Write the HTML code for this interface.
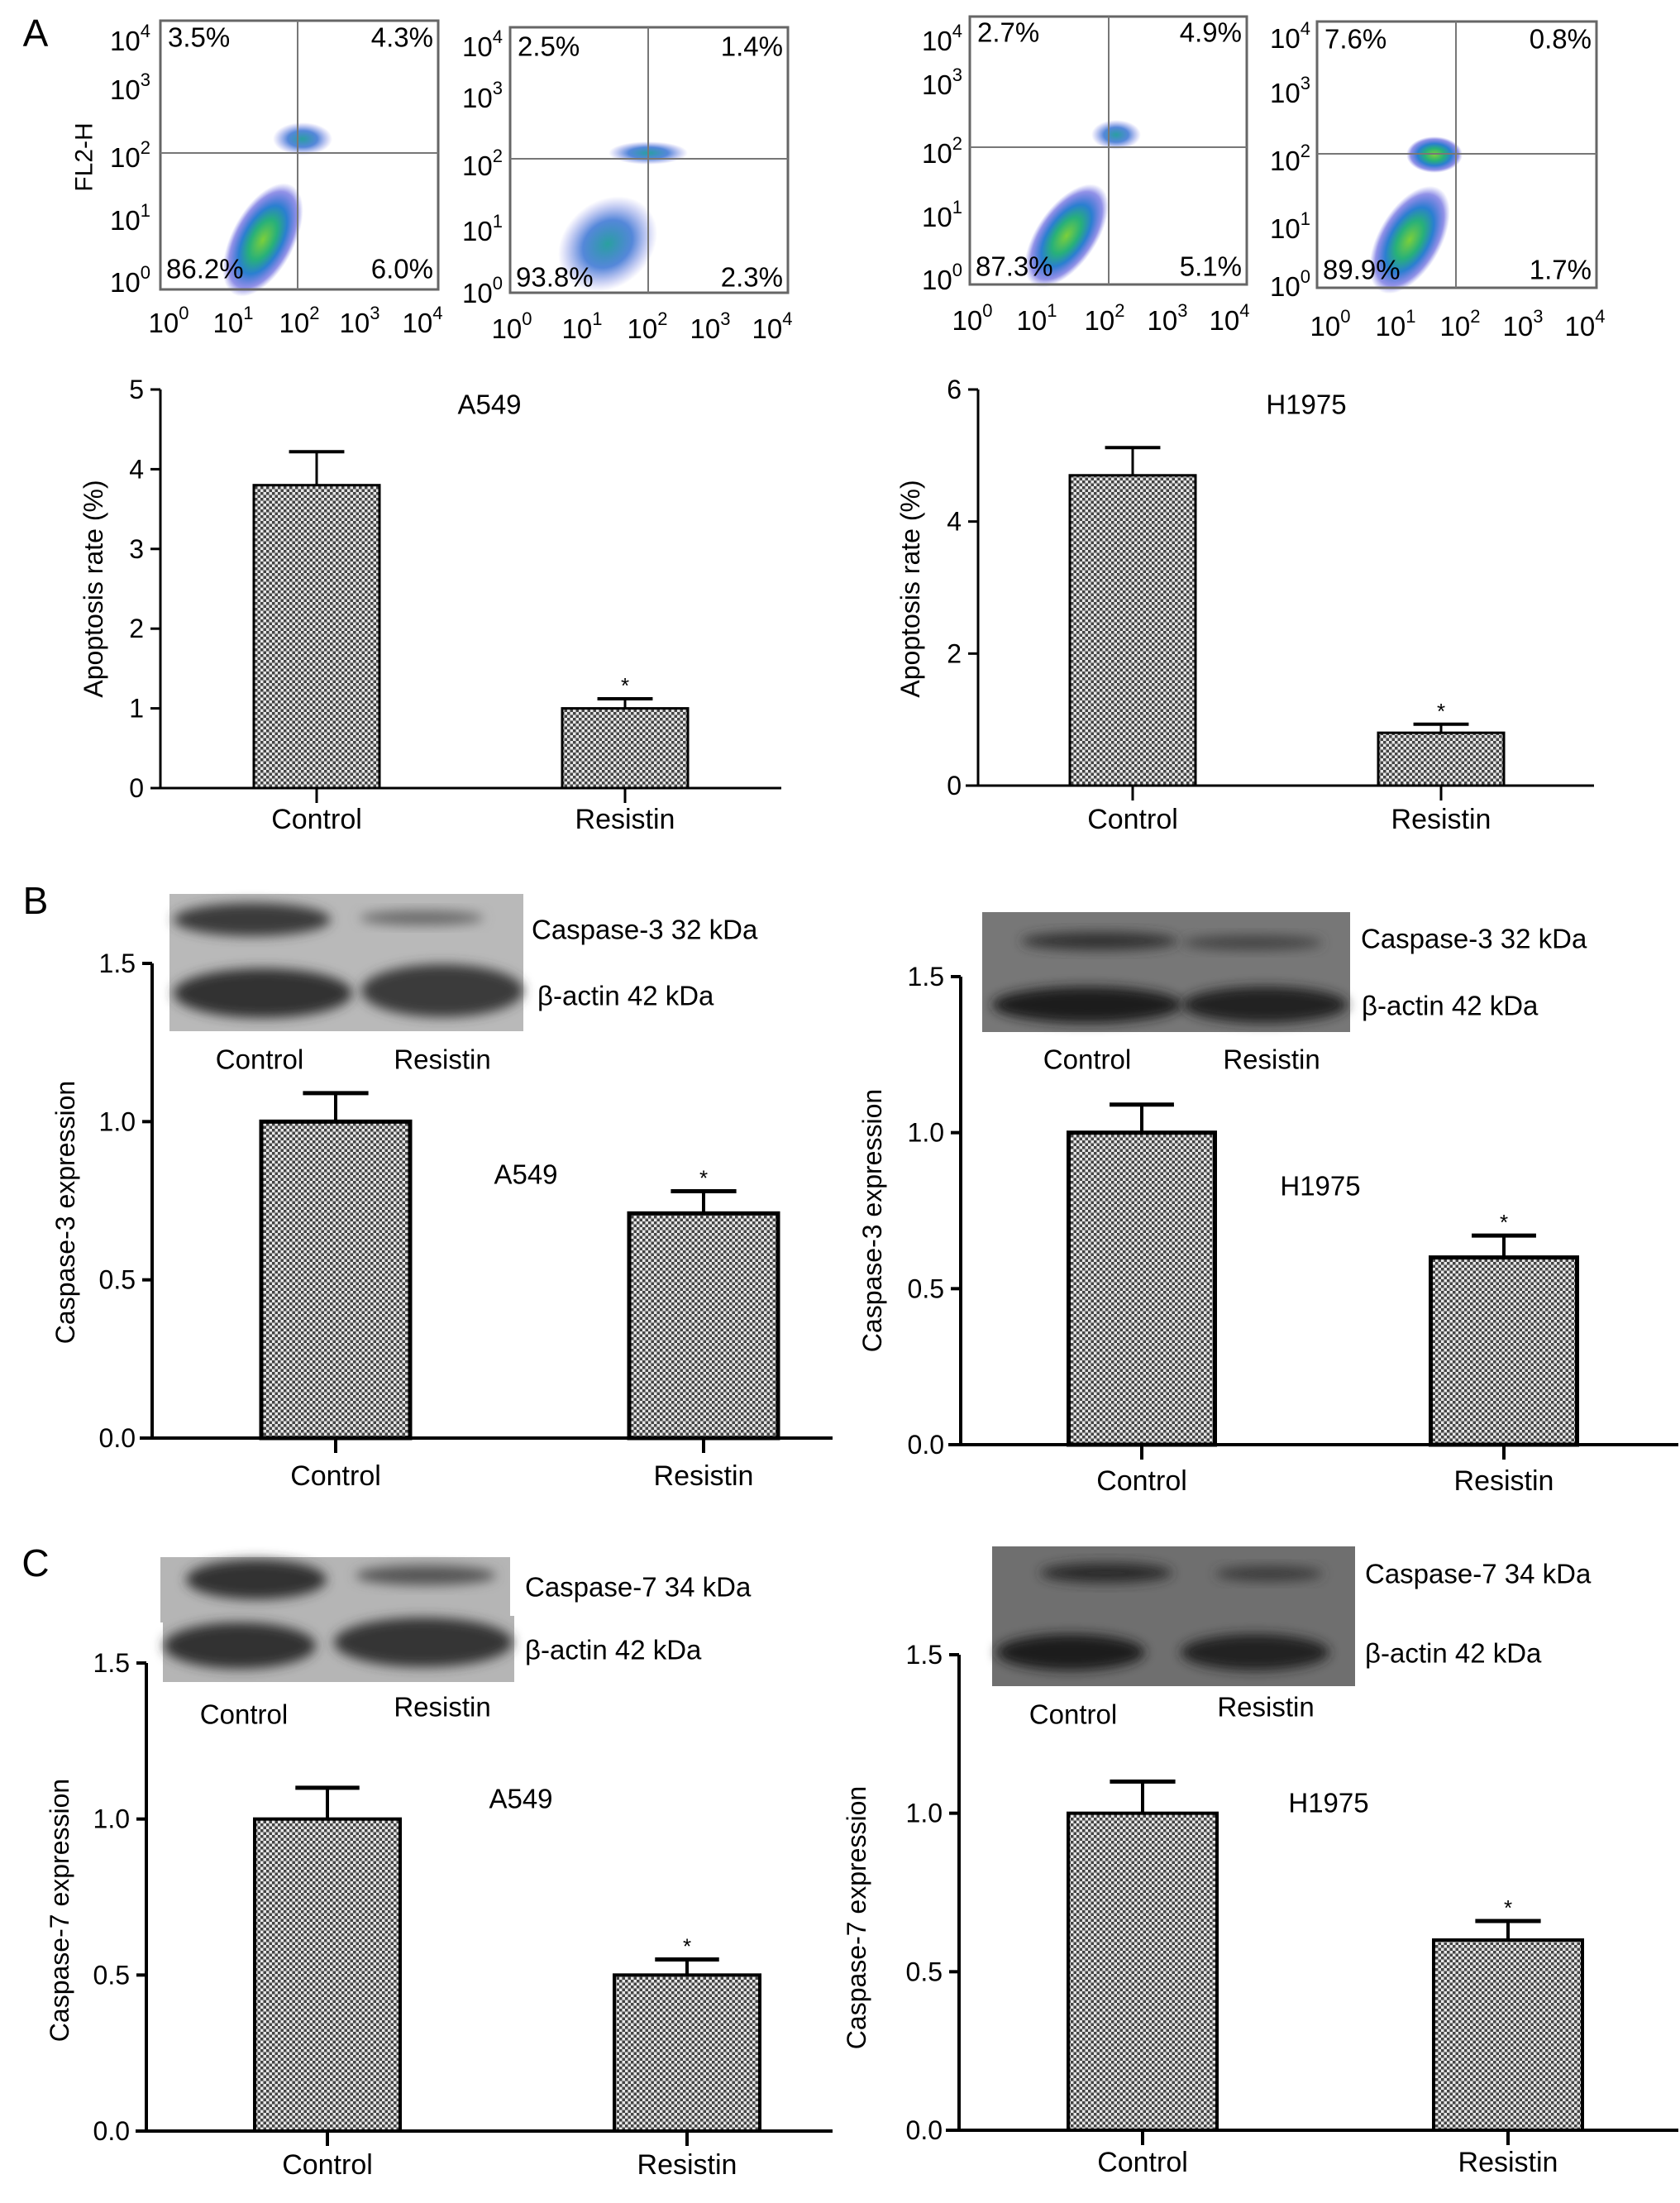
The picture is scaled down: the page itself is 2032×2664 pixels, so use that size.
<!DOCTYPE html>
<html><head><meta charset="utf-8"><style>
html,body{margin:0;padding:0;background:#fff;}
svg{display:block;font-family:"Liberation Sans",Arial,sans-serif;}
</style></head><body>
<svg id="fig" width="2032" height="2664" viewBox="0 0 2032 2664" xmlns="http://www.w3.org/2000/svg">
<defs>
<pattern id="chk" width="7" height="7" patternUnits="userSpaceOnUse">
<rect width="7" height="7" fill="#e6e6e6"/><rect width="3.5" height="3.5" fill="#444"/><rect x="3.5" y="3.5" width="3.5" height="3.5" fill="#444"/>
</pattern>
<radialGradient id="cloud" cx="50%" cy="50%" r="50%">
<stop offset="0" stop-color="#7ccf3a"/><stop offset="0.35" stop-color="#27b07a"/><stop offset="0.6" stop-color="#2a7fd0"/><stop offset="0.85" stop-color="#4a4ad8" stop-opacity="0.6"/><stop offset="1" stop-color="#6a6ae0" stop-opacity="0"/>
</radialGradient>
<radialGradient id="cloudb" cx="50%" cy="50%" r="50%">
<stop offset="0" stop-color="#2aa0a0"/><stop offset="0.5" stop-color="#2a6ad0" stop-opacity="0.8"/><stop offset="1" stop-color="#6a6ae0" stop-opacity="0"/>
</radialGradient>
<filter id="blur" x="-20%" y="-50%" width="140%" height="200%"><feGaussianBlur stdDeviation="7"/></filter>
</defs>
<g id="root"></g>
</svg>
<script>
// ---------- bar chart data ----------
const categories = ["Control", "Resistin"];
const apoA549 = [3.8, 1.0];
const apoA549Err = [0.42, 0.12];
const apoH1975 = [4.7, 0.8];
const apoH1975Err = [0.42, 0.13];
const casp3A549 = [1.0, 0.71];
const casp3A549Err = [0.09, 0.07];
const casp3H1975 = [1.0, 0.6];
const casp3H1975Err = [0.09, 0.07];
const casp7A549 = [1.0, 0.5];
const casp7A549Err = [0.10, 0.05];
const casp7H1975 = [1.0, 0.6];
const casp7H1975Err = [0.10, 0.06];
const ticksApoA549 = [0, 1, 2, 3, 4, 5];
const ticksApoH1975 = [0, 2, 4, 6];
const ticksCasp = [0, 0.5, 1.0, 1.5];
const sigMarks = ["", "*"];
// flow quadrant percentages [UL, UR, LL, LR]
const flowA549Ctrl = ["3.5%", "4.3%", "86.2%", "6.0%"];
const flowA549Res = ["2.5%", "1.4%", "93.8%", "2.3%"];
const flowH1975Ctrl = ["2.7%", "4.9%", "87.3%", "5.1%"];
const flowH1975Res = ["7.6%", "0.8%", "89.9%", "1.7%"];
const logExps = ["0", "1", "2", "3", "4"];

const NS = "http://www.w3.org/2000/svg";
const root = document.getElementById("root");
function mk(tag, attrs, parent, text) {
  const e = document.createElementNS(NS, tag);
  for (const k in attrs) e.setAttribute(k, attrs[k]);
  if (text !== undefined) e.textContent = text;
  (parent || root).appendChild(e);
  return e;
}

// panel letters
[["A", 43, 40], ["B", 43, 1089], ["C", 43, 1890]].forEach(([t, x, y]) => {
  const e = mk("text", {x: x, y: y, "font-size": 46, "text-anchor": "middle", "dominant-baseline": "central"}, root, t);
  
  
});

// ---------- flow plots ----------
function flow(name, L) {
  const g = mk("g", {});
  
  
  L.clouds.forEach(c => {
    const el = mk("ellipse", {cx: c[0], cy: c[1], rx: c[2], ry: c[3], fill: c[5] ? "url(#cloudb)" : "url(#cloud)", transform: "rotate(" + c[4] + " " + c[0] + " " + c[1] + ")"}, g);
    
    
  });
  mk("rect", {x: L.l, y: L.t, width: L.r - L.l, height: L.b - L.t, fill: "none", stroke: "#666", "stroke-width": 3}, g);
  mk("line", {x1: L.l, x2: L.r, y1: L.h, y2: L.h, stroke: "#777", "stroke-width": 2}, g);
  mk("line", {x1: L.v, x2: L.v, y1: L.t, y2: L.b, stroke: "#777", "stroke-width": 2}, g);
  logExps.forEach((ex, i) => {
    const t = mk("text", {x: L.yx, y: L.ys[i], "font-size": 33, "text-anchor": "end", "dominant-baseline": "central"}, g);
    
    
    mk("tspan", {}, t, "10");
    mk("tspan", {dy: -12, "font-size": 22}, t, logExps[logExps.length - 1 - i]);
    const u = mk("text", {x: L.xs[i] - 8, y: L.xy, "font-size": 33, "text-anchor": "middle", "dominant-baseline": "central"}, g);
    
    
    mk("tspan", {}, u, "10");
    mk("tspan", {dy: -12, "font-size": 22}, u, ex);
  });
  const p = L.pct;
  const q = [[L.l + 9, L.ty, "start", p[0]], [L.r - 6, L.ty, "end", p[1]], [L.l + 7, L.by, "start", p[2]], [L.r - 6, L.by, "end", p[3]]];
  q.forEach(a => {
    const t = mk("text", {x: a[0], y: a[1], "font-size": 33, "text-anchor": a[2], "dominant-baseline": "central"}, g, a[3]);
    
    
  });
}
flow("flow-a549-control", {l: 194, r: 530, t: 25, b: 350, h: 185, v: 360, yx: 182, ys: [49, 108, 190, 266, 341], xy: 390, xs: [212, 290, 370, 443, 519], ty: 45, by: 325, pct: flowA549Ctrl,
  clouds: [[318, 290, 75, 38, -62], [366, 168, 36, 20, 0, 1]]});
flow("flow-a549-resistin", {l: 617, r: 953, t: 33, b: 354, h: 192, v: 784, yx: 608, ys: [56, 118, 200, 279, 354], xy: 397, xs: [627, 712, 791, 867, 942], ty: 56, by: 335, pct: flowA549Res,
  clouds: [[735, 295, 65, 52, -40, 1], [784, 185, 48, 14, 0, 1]]});
flow("flow-h1975-control", {l: 1173, r: 1508, t: 20, b: 344, h: 178, v: 1341, yx: 1164, ys: [49, 102, 185, 262, 338], xy: 387, xs: [1184, 1262, 1344, 1420, 1495], ty: 39, by: 322, pct: flowH1975Ctrl,
  clouds: [[1290, 285, 72, 36, -55], [1350, 163, 30, 18, 0, 1]]});
flow("flow-h1975-resistin", {l: 1593, r: 1931, t: 26, b: 348, h: 186, v: 1761, yx: 1585, ys: [46, 112, 194, 276, 346], xy: 394, xs: [1617, 1696, 1774, 1850, 1925], ty: 47, by: 326, pct: flowH1975Res,
  clouds: [[1705, 290, 72, 38, -60], [1735, 187, 34, 22, 0]]});
{
  const t = mk("text", {x: 102, y: 190, "font-size": 30, "text-anchor": "middle", "dominant-baseline": "central", transform: "rotate(-90 102 190)"}, root, "FL2-H");
  
  
}

// ---------- western blots ----------
function blot(name, B) {
  const g = mk("g", {});
  
  
  B.rects.forEach(r => mk("rect", {x: r[0], y: r[1], width: r[2], height: r[3], fill: B.bg}, g));
  B.bands.forEach(b => {
    const e = mk("ellipse", {cx: b[0], cy: b[1], rx: b[2], ry: b[3], fill: b[4], filter: "url(#blur)"}, g);
    
    
  });
  B.texts.forEach(s => {
    const t = mk("text", {x: s[0], y: s[1], "font-size": s[3] || 33, "text-anchor": s[4] || "start", "dominant-baseline": "central"}, g, s[2]);
    
    
  });
}
blot("blot-caspase3-a549", {bg: "#b9b9b9", rects: [[205, 1081, 428, 166]],
  bands: [[305, 1112, 95, 20, "#3a3a3a"], [510, 1110, 75, 9, "#6a6a6a"], [318, 1201, 108, 30, "#333"], [535, 1198, 98, 32, "#3a3a3a"]],
  texts: [[643, 1124, "Caspase-3 32 kDa"], [650, 1204, "β-actin 42 kDa"], [314, 1281, "Control", 33, "middle"], [535, 1281, "Resistin", 33, "middle"]]});
blot("blot-caspase3-h1975", {bg: "#777", rects: [[1188, 1103, 445, 145]],
  bands: [[1330, 1138, 95, 11, "#333"], [1515, 1140, 85, 9, "#444"], [1315, 1215, 115, 22, "#1e1e1e"], [1530, 1215, 100, 22, "#222"]],
  texts: [[1646, 1135, "Caspase-3 32 kDa"], [1647, 1216, "β-actin 42 kDa"], [1315, 1281, "Control", 33, "middle"], [1538, 1281, "Resistin", 33, "middle"]]});
blot("blot-caspase7-a549", {bg: "#b5b5b5", rects: [[194, 1883, 423, 79], [197, 1954, 425, 80]],
  bands: [[310, 1910, 85, 24, "#333"], [515, 1905, 85, 12, "#555"], [290, 1990, 92, 28, "#333"], [512, 1986, 108, 30, "#353535"]],
  texts: [[635, 1919, "Caspase-7 34 kDa"], [635, 1995, "β-actin 42 kDa"], [295, 2073, "Control", 33, "middle"], [535, 2064, "Resistin", 33, "middle"]]});
blot("blot-caspase7-h1975", {bg: "#6f6f6f", rects: [[1200, 1870, 439, 169]],
  bands: [[1338, 1902, 80, 12, "#2a2a2a"], [1535, 1903, 65, 9, "#3a3a3a"], [1295, 1998, 90, 22, "#1a1a1a"], [1518, 1998, 90, 22, "#222"]],
  texts: [[1651, 1903, "Caspase-7 34 kDa"], [1651, 1999, "β-actin 42 kDa"], [1298, 2073, "Control", 33, "middle"], [1531, 2064, "Resistin", 33, "middle"]]});

// ---------- bar charts ----------
function barChart(name, C, vals, errs, ticks) {
  const g = mk("g", {});
  
  
  const ymax = ticks[ticks.length - 1];
  const yScale = v => C.y0 - (v / ymax) * (C.y0 - C.yTop);
  const xScale = i => C.cx[i];
  ticks.forEach(t => {
    const y = yScale(t);
    mk("line", {x1: C.ax - 12, x2: C.ax, y1: y, y2: y, stroke: "#000", "stroke-width": C.lw}, g);
    const tx = mk("text", {x: C.ax - 20, y: y, "font-size": 32, "text-anchor": "end", "dominant-baseline": "central"}, g, C.dec ? t.toFixed(1) : String(t));
    
    
  });
  vals.forEach((v, i) => {
    const x = xScale(i), yt = yScale(v), ye = yScale(v + errs[i]);
    mk("line", {x1: x, x2: x, y1: yt, y2: ye, stroke: "#000", "stroke-width": C.lw}, g);
    mk("line", {x1: x - C.w * 0.22, x2: x + C.w * 0.22, y1: ye, y2: ye, stroke: "#000", "stroke-width": C.lw + 1}, g);
    const r = mk("rect", {x: x - C.w / 2, y: yt, width: C.w, height: C.y0 - yt, fill: "url(#chk)", stroke: "#000", "stroke-width": C.bw}, g);
    
    
    if (sigMarks[i]) {
      const s = mk("text", {x: x, y: ye - 16, "font-size": 26, "text-anchor": "middle", "dominant-baseline": "central"}, g, sigMarks[i]);
      
      
    }
    mk("line", {x1: x, x2: x, y1: C.y0, y2: C.y0 + 18, stroke: "#000", "stroke-width": C.lw}, g);
    const lb = mk("text", {x: x, y: C.xly, "font-size": 34, "text-anchor": "middle", "dominant-baseline": "central"}, g, categories[i]);
    
    
  });
  mk("line", {x1: C.ax, x2: C.ax, y1: C.yTop, y2: C.y0, stroke: "#000", "stroke-width": C.lw}, g);
  mk("line", {x1: C.ax0, x2: C.xEnd, y1: C.y0, y2: C.y0, stroke: "#000", "stroke-width": C.lw}, g);
  const tt = mk("text", {x: C.tx, y: C.ty, "font-size": 33, "text-anchor": "middle", "dominant-baseline": "central"}, g, C.title);
  
  
  const yt = mk("text", {x: C.ytx, y: C.yty, "font-size": 32, "text-anchor": "middle", "dominant-baseline": "central", transform: "rotate(-90 " + C.ytx + " " + C.yty + ")"}, g, C.ytitle);
  
  
}
barChart("bar-chart-apoptosis-a549", {ax: 194, ax0: 184, y0: 953, yTop: 471, xEnd: 945, cx: [383, 756], w: 152, lw: 3, bw: 3, dec: false, xly: 991, title: "A549", tx: 592, ty: 489, ytitle: "Apoptosis rate (%)", ytx: 113, yty: 712}, apoA549, apoA549Err, ticksApoA549);
barChart("bar-chart-apoptosis-h1975", {ax: 1183, ax0: 1168, y0: 950, yTop: 471, xEnd: 1928, cx: [1370, 1743], w: 152, lw: 3, bw: 3, dec: false, xly: 991, title: "H1975", tx: 1580, ty: 489, ytitle: "Apoptosis rate (%)", ytx: 1101, yty: 712}, apoH1975, apoH1975Err, ticksApoH1975);
barChart("bar-chart-caspase3-a549", {ax: 184, ax0: 169, y0: 1739, yTop: 1165, xEnd: 1007, cx: [406, 851], w: 180, lw: 4, bw: 5, dec: true, xly: 1785, title: "A549", tx: 636, ty: 1420, ytitle: "Caspase-3 expression", ytx: 79, yty: 1466}, casp3A549, casp3A549Err, ticksCasp);
barChart("bar-chart-caspase3-h1975", {ax: 1162, ax0: 1147, y0: 1747, yTop: 1181, xEnd: 2030, cx: [1381, 1819], w: 177, lw: 4, bw: 5, dec: true, xly: 1791, title: "H1975", tx: 1597, ty: 1434, ytitle: "Caspase-3 expression", ytx: 1055, yty: 1476}, casp3H1975, casp3H1975Err, ticksCasp);
barChart("bar-chart-caspase7-a549", {ax: 177, ax0: 164, y0: 2577, yTop: 2011, xEnd: 1007, cx: [396, 831], w: 176, lw: 4, bw: 4, dec: true, xly: 2618, title: "A549", tx: 630, ty: 2175, ytitle: "Caspase-7 expression", ytx: 72, yty: 2310}, casp7A549, casp7A549Err, ticksCasp);
barChart("bar-chart-caspase7-h1975", {ax: 1160, ax0: 1144, y0: 2576, yTop: 2001, xEnd: 2030, cx: [1382, 1824], w: 180, lw: 4, bw: 4, dec: true, xly: 2615, title: "H1975", tx: 1607, ty: 2180, ytitle: "Caspase-7 expression", ytx: 1036, yty: 2319}, casp7H1975, casp7H1975Err, ticksCasp);
</script>
</body></html>
